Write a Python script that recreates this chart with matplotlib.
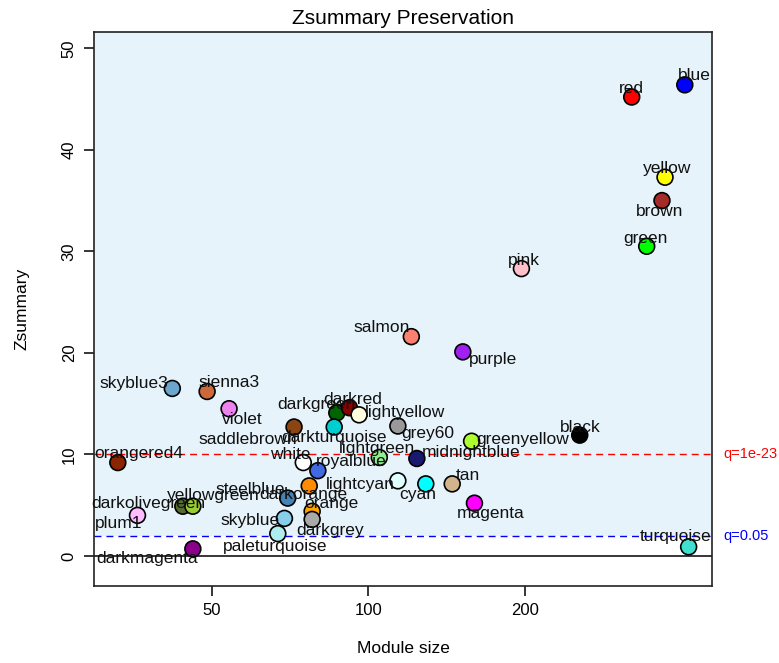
import matplotlib
matplotlib.use("Agg")
import matplotlib.pyplot as plt
import matplotlib.transforms as mtransforms

plt.rcParams["font.family"] = ["Liberation Sans", "DejaVu Sans"]

# module colours (module names), sizes and Zsummary preservation values
MODULES = ["blue", "red", "yellow", "brown", "green", "pink", "salmon", "purple",
           "skyblue3", "sienna3", "violet", "saddlebrown", "darkgreen", "darkred",
           "lightyellow", "darkturquoise", "grey60", "greenyellow", "black",
           "orangered4", "white", "royalblue", "lightgreen", "midnightblue",
           "lightcyan", "cyan", "tan", "magenta", "darkorange", "steelblue",
           "orange", "darkgrey", "skyblue", "paleturquoise", "darkolivegreen",
           "yellowgreen", "plum1", "darkmagenta", "turquoise"]
SIZES = [406, 321, 372, 367, 343, 197, 121, 152,
         42, 49, 54, 72, 87, 92,
         96, 86, 114, 158, 255,
         33, 75, 80, 105, 124,
         114, 129, 145, 160, 77, 70,
         78, 78, 69, 67, 44,
         46, 36, 46, 413]
ZSUMMARY = [46.4, 45.2, 37.3, 35.0, 30.5, 28.3, 21.6, 20.1,
            16.5, 16.2, 14.5, 12.7, 14.1, 14.6,
            13.9, 12.7, 12.8, 11.3, 11.9,
            9.2, 9.2, 8.4, 9.7, 9.6,
            7.4, 7.1, 7.1, 5.2, 6.9, 5.7,
            4.4, 3.6, 3.7, 2.2, 4.9,
            4.9, 4.0, 0.7, 0.9]

# R colour names that differ from matplotlib's
R_COLS = {"green": "#00FF00", "purple": "#A020F0", "grey60": "#999999",
          "orangered4": "#8B2500", "sienna3": "#CD6839", "skyblue3": "#6CA6CD",
          "plum1": "#FFBBFF"}

# label offsets in pixels (dx, dy), placed to avoid overlaps like labelPoints
LABEL_OFFS = {
    "blue": (10, 9), "red": (0, 9), "yellow": (2, 9), "brown": (-2, -11),
    "green": (-1, 8), "pink": (2, 8), "salmon": (-30, 9), "purple": (30, -8),
    "skyblue3": (-38, 5), "sienna3": (22, 9), "violet": (13, -11),
    "saddlebrown": (-46, -12), "darkgreen": (-20, 8), "darkred": (3, 8),
    "lightyellow": (46, 2), "darkturquoise": (0, -10), "grey60": (30, -8),
    "greenyellow": (51, 2), "black": (1, 8), "orangered4": (21, 9),
    "white": (-13, 8), "royalblue": (33, 9), "lightgreen": (-2, 9),
    "midnightblue": (54, 6), "lightcyan": (-38, -4), "cyan": (-8, -11),
    "tan": (16, 8), "magenta": (16, -10), "darkorange": (-6, -9),
    "steelblue": (-37, 9), "orange": (19, 8), "darkgrey": (18, -11),
    "skyblue": (-34, -2), "paleturquoise": (-3, -13), "darkolivegreen": (-34, 3),
    "yellowgreen": (20, 11), "plum1": (-19, -8), "darkmagenta": (-46, -10),
    "turquoise": (-13, 10),
}

fig = plt.figure(figsize=(7.79, 6.63), dpi=100, facecolor="white")
ax = fig.add_axes([0.1207, 0.1161, 0.7933, 0.8356])
ax.set_xscale("log")
ax.set_xlim(29.7, 458)
ax.set_ylim(-2.96, 51.6)

# shaded region above the q=0.05 threshold
ax.axhspan(2, 60, color="#E6F3FA", zorder=0, lw=0)
ax.axhline(0, color="black", lw=1.1, zorder=1)
ax.axhline(2, color="blue", lw=1.0, dashes=(5, 3.6), zorder=1)
ax.axhline(10, color="red", lw=1.0, dashes=(5, 3.6), zorder=1)

cols = [R_COLS.get(m, m) for m in MODULES]
ax.scatter(SIZES, ZSUMMARY, s=130, c=cols, edgecolors="black",
           linewidths=1.2, zorder=3)

for m, x, y in zip(MODULES, SIZES, ZSUMMARY):
    dx, dy = LABEL_OFFS[m]
    ax.annotate(m, (x, y), xytext=(dx, dy), textcoords="offset pixels",
                ha="center", va="center", fontsize=12.5, color="#111111",
                zorder=4)

trans = mtransforms.blended_transform_factory(ax.transAxes, ax.transData)
ax.text(1.018, 10, "q=1e-23", color="red", fontsize=10.5, transform=trans,
        ha="left", va="center", clip_on=False)
ax.text(1.018, 2, "q=0.05", color="blue", fontsize=10.5, transform=trans,
        ha="left", va="center", clip_on=False)

ax.set_xticks([50, 100, 200])
ax.set_xticklabels(["50", "100", "200"])
ax.xaxis.set_minor_locator(matplotlib.ticker.NullLocator())
ax.set_yticks([0, 10, 20, 30, 40, 50])
ax.set_yticklabels(["0", "10", "20", "30", "40", "50"], rotation=90, va="center")
ax.tick_params(axis="both", length=7.5, width=1.1, labelsize=12, pad=5)

for sp in ax.spines.values():
    sp.set_linewidth(1.2)
    sp.set_color("#222222")

ax.set_title("Zsummary Preservation", fontsize=15, pad=6)
ax.set_xlabel("Module size", fontsize=12.5)
ax.set_ylabel("Zsummary", fontsize=12.5)
ax.xaxis.set_label_coords(0.5, -0.1)
ax.yaxis.set_label_coords(-0.105, 0.5)

fig.savefig("out.png", dpi=100)
